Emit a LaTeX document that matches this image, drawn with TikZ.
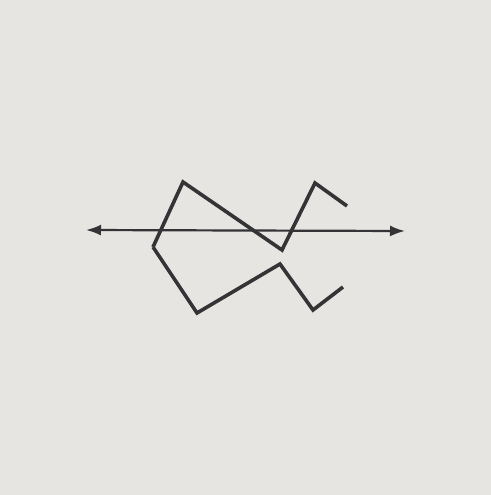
\documentclass[tikz,border=0pt]{standalone}
\usetikzlibrary{arrows.meta}
\definecolor{paper}{RGB}{231,229,225}
\definecolor{pencil}{RGB}{52,52,54}
\begin{document}
\begin{tikzpicture}[x=0.5mm,y=-0.5mm,line join=miter]
  \fill[paper] (0,0) rectangle (491,495);
  \useasboundingbox (0,0) rectangle (491,495);
  % symmetry axis
  \coordinate (axisL) at (86,230);
  \coordinate (axisR) at (405,231);
  \draw[pencil,line width=1.1mm,{Latex[length=7.5mm,width=5.5mm]}-{Latex[length=7.5mm,width=5.5mm]}] (axisL) -- (axisR);
  % upper zigzag
  \coordinate (corner) at (153,247);
  \coordinate (peakA) at (183,182);
  \coordinate (valley) at (282,250);
  \coordinate (peakB) at (315,183);
  \coordinate (endA) at (347,206);
  \draw[pencil,line width=1.8mm] (corner) -- (peakA) -- (valley) -- (peakB) -- (endA);
  % lower zigzag
  \coordinate (dipA) at (197,313);
  \coordinate (peakC) at (280,264);
  \coordinate (dipB) at (313,310);
  \coordinate (endB) at (343,287);
  \draw[pencil,line width=1.8mm] (corner) -- (dipA) -- (peakC) -- (dipB) -- (endB);
\end{tikzpicture}
\end{document}
